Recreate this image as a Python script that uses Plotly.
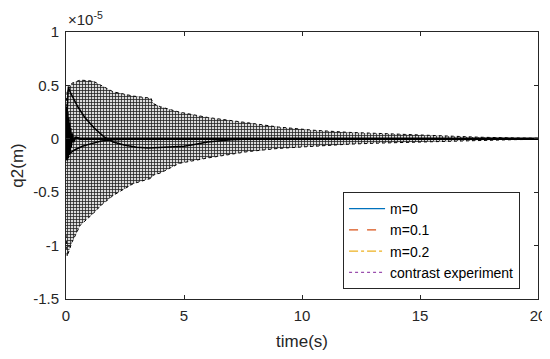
import plotly.graph_objects as go

# ---- data (values in units of 1e-5 m) ----
t_m0 = [0, 0.02, 0.04, 0.06, 0.08, 0.1, 0.12, 0.14, 0.16, 0.18, 0.2, 0.25, 0.3, 0.4, 0.6, 1, 2, 5, 10, 20]
m0 = [0, 0.3, -0.2, 0.25, -0.18, 0.2, -0.15, 0.15, -0.12, 0.1, -0.08, 0.05, -0.03, 0.01, 0, 0, 0, 0, 0, 0]

t_m01 = [0, 0.05, 0.1, 0.15, 0.3, 0.5, 0.8, 1.2, 1.6, 2.0, 2.5, 3.0, 3.5, 4.0, 4.5, 5, 5.5, 6, 7, 8, 10, 20]
m01 = [0, 0.35, 0.49, 0.45, 0.38, 0.3, 0.2, 0.1, 0.02, -0.03, -0.06, -0.08, -0.085, -0.08, -0.075, -0.07, -0.05, -0.03, -0.01, 0, 0, 0]

t_m02 = [0, 0.05, 0.1, 0.2, 0.4, 0.7, 1.0, 1.5, 2.0, 3, 20]
m02 = [0, -0.2, -0.15, -0.13, -0.1, -0.07, -0.05, -0.02, -0.01, 0, 0]

t_env = [0, 0.05, 0.25, 0.6, 1.15, 1.5, 2.0, 2.85, 3.6, 3.7, 4.0, 4.8, 6, 7.7, 9, 10.5, 12, 13.3, 15, 16.1, 17.5, 19, 20]
upper = [0.3, 0.45, 0.52, 0.55, 0.54, 0.5, 0.44, 0.4, 0.38, 0.33, 0.3, 0.25, 0.2, 0.15, 0.11, 0.08, 0.06, 0.05, 0.035, 0.025, 0.015, 0.008, 0.005]
lower = [-0.9, -1.1, -0.97, -0.81, -0.7, -0.62, -0.53, -0.42, -0.37, -0.34, -0.32, -0.23, -0.18, -0.12, -0.09, -0.07, -0.05, -0.04, -0.03, -0.02, -0.015, -0.008, -0.005]

x_ticks = [0, 5, 10, 15, 20]
y_ticks = [-1.5, -1, -0.5, 0, 0.5, 1]
y_tick_text = ["-1.5", "-1", "-0.5", "0", "0.5", "1"]

legend_names = ["m=0", "m=0.1", "m=0.2", "contrast experiment"]
legend_colors = ["#0072BD", "#D95319", "#EDB120", "#9B4FAE"]
legend_dash = ["solid", "dash", "dashdot", "dot"]

FONT = "Liberation Sans, Arial, Helvetica, sans-serif"

fig = go.Figure()

# contrast experiment band (dense oscillation) drawn as hatched fill between envelopes
fig.add_trace(go.Scatter(x=t_env, y=lower, mode="lines",
                         line=dict(color="black", width=1, dash="dot"),
                         showlegend=False, hoverinfo="skip"))
fig.add_trace(go.Scatter(x=t_env, y=upper, mode="lines",
                         line=dict(color="black", width=1, dash="dot"),
                         fill="tonexty", fillcolor="rgba(255,255,255,0)",
                         fillpattern=dict(shape="+", fgcolor="black", bgcolor="rgba(0,0,0,0.14)",
                                          size=3, solidity=0.45, fgopacity=0.85),
                         showlegend=False, hoverinfo="skip"))

# model curves (drawn black)
fig.add_trace(go.Scatter(x=t_m02, y=m02, mode="lines",
                         line=dict(color="black", width=1.5), showlegend=False))
fig.add_trace(go.Scatter(x=t_m01, y=m01, mode="lines",
                         line=dict(color="black", width=1.5), showlegend=False))
fig.add_trace(go.Scatter(x=t_m0, y=m0, mode="lines",
                         line=dict(color="black", width=2.5), showlegend=False))

# legend entries (coloured, as in the original)
for name, col, dsh in zip(legend_names, legend_colors, legend_dash):
    fig.add_trace(go.Scatter(x=[None], y=[None], mode="lines", name=name,
                             line=dict(color=col, width=1.2, dash=dsh)))

axis_common = dict(showline=True, linecolor="#262626", linewidth=1, mirror="ticks",
                   ticks="inside", ticklen=4, tickcolor="#262626", showgrid=False, zeroline=False,
                   automargin=False, ticklabelstandoff=3,
                   tickfont=dict(family=FONT, size=15, color="#262626"))

# page body has an 8px margin, so the figure is sized to fit the 550x359 window
fig.update_layout(
    width=542, height=351,
    margin=dict(l=58, r=12, t=24, b=60),
    paper_bgcolor="white", plot_bgcolor="white",
    font=dict(family=FONT, color="#262626"),
    xaxis=dict(range=[0, 20], tickvals=x_ticks,
               title=dict(text="time(s)", font=dict(family=FONT, size=17), standoff=12),
               **axis_common),
    yaxis=dict(range=[-1.5, 1], tickvals=y_ticks, ticktext=y_tick_text,
               title=dict(text="q2(m)", font=dict(family=FONT, size=17), standoff=14),
               **axis_common),
    legend=dict(x=0.962, y=0.037, xanchor="right", yanchor="bottom",
                bgcolor="white", bordercolor="#262626", borderwidth=1,
                font=dict(family=FONT, size=14, color="black"),
                traceorder="normal", tracegroupgap=0, itemwidth=36),
    showlegend=True,
    annotations=[dict(text="×10<sup>-5</sup>", xref="paper", yref="paper", x=0, y=1,
                      xanchor="left", yanchor="bottom", showarrow=False, yshift=2,
                      font=dict(family=FONT, size=15, color="#262626"))],
)

fig.write_html("out.html")
